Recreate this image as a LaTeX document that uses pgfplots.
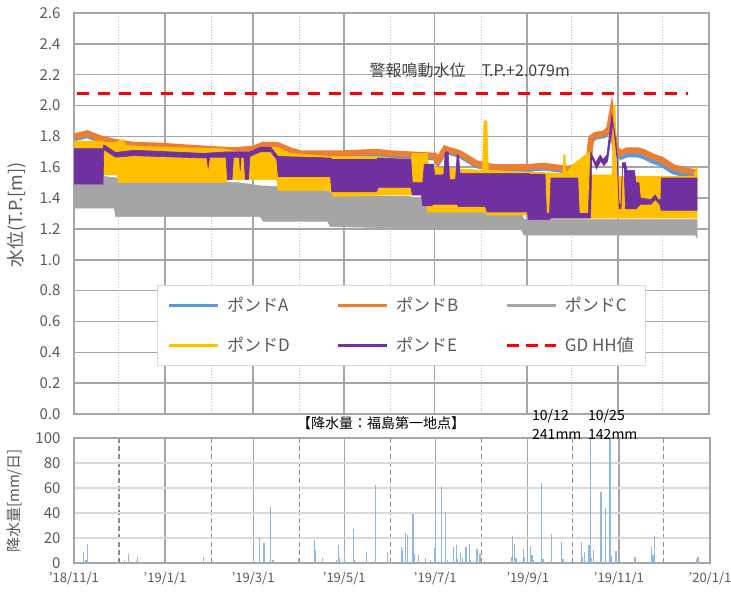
\documentclass[border=0pt]{standalone}
\usepackage{fontspec}
\setmainfont{Noto Sans CJK JP}
\usepackage{pgfplots}
\pgfplotsset{compat=1.18}
\definecolor{pA}{HTML}{5B9BD5}
\definecolor{pB}{HTML}{ED7D31}
\definecolor{pC}{HTML}{A5A5A5}
\definecolor{pD}{HTML}{FFC000}
\definecolor{pE}{HTML}{7030A0}
\definecolor{gridgray}{HTML}{A6A6A6}
\definecolor{dotgray}{HTML}{BFBFBF}
\definecolor{lightgrid}{HTML}{D9D9D9}
\definecolor{dashgray}{HTML}{8C8C8C}
\definecolor{textgray}{HTML}{595959}
\definecolor{darktext}{HTML}{404040}
\definecolor{barblue}{HTML}{8FB8E3}
\begin{document}
\begin{tikzpicture}[x=1pt,y=1pt]
\useasboundingbox (0,0) rectangle (731,594);
\begin{axis}[
  at={(74pt,180pt)}, anchor=south west, scale only axis,
  width=635pt, height=401pt,
  xmin=0, xmax=426, ymin=0, ymax=2.6,
  axis line style={draw=gridgray, line width=1.5pt},
  xtick={61,120,181,242,304,365}, minor xtick={30,92,151,212,273,334,395},
  xticklabels={},
  ytick={0,0.2,0.4,0.6,0.8,1.0,1.2,1.4,1.6,1.8,2.0,2.2,2.4,2.6},
  xmajorgrids, xminorgrids, ymajorgrids,
  major grid style={draw=gridgray, line width=1.5pt},
  minor grid style={draw=dotgray, line width=0.8pt, dotted},
  major tick length=0pt, minor tick length=0pt,
  yticklabel style={font=\fontsize{15}{17}\selectfont, text=textgray, xshift=-10pt},
  /pgf/number format/.cd, fixed, fixed zerofill, precision=1, assume math mode=true,
  /pgfplots/.cd,
  legend columns=3, legend cell align=left,
  legend image code/.code={\draw[#1] (0pt,0pt) -- (49pt,0pt);},
  legend style={at={(0.1307,0.3217)}, anchor=north west, draw=lightgrid, line width=1pt,
    fill=white, inner xsep=10pt, inner ysep=10pt, row sep=20pt,
    font=\fontsize{17}{20}\selectfont, text=textgray,
    /tikz/every odd column/.append style={column sep=6pt},
    /tikz/every even column/.append style={column sep=45pt}},
]
% Pond A
\addplot[pA, line width=5pt, forget plot] coordinates {
(0,1.785) (5,1.795) (9,1.805) (14,1.785) (20,1.765) (30,1.745) (40,1.73) (58,1.725) (80,1.71) (107,1.695) (120,1.705) (127,1.73) (136,1.73) (145,1.695) (152,1.675) (180,1.675) (203,1.685) (212,1.675) (242,1.66) (244,1.625) (249,1.705) (259,1.675) (270,1.61) (282,1.585) (304,1.585) (315,1.595) (331,1.575) (338,1.585) (345,1.605) (347,1.775) (350,1.795) (356,1.805) (359,1.835) (360.5,1.90) (362,1.785) (363,1.715) (364,1.705) (365.5,1.68) (367,1.665) (371,1.68) (378,1.68) (382,1.67) (388,1.64) (394,1.62) (402,1.57) (410,1.55) (418,1.535)};
% Pond B
\addplot[pB, line width=6pt, forget plot] coordinates {
(0,1.80) (5,1.81) (9,1.82) (14,1.80) (20,1.78) (30,1.76) (40,1.745) (58,1.74) (80,1.725) (107,1.71) (120,1.72) (127,1.745) (136,1.745) (145,1.71) (152,1.69) (180,1.69) (203,1.70) (212,1.69) (242,1.675) (244,1.64) (249,1.72) (259,1.69) (270,1.625) (282,1.60) (304,1.60) (315,1.61) (331,1.59) (338,1.60) (345,1.62) (347,1.79) (350,1.81) (356,1.82) (359,1.85) (360.5,1.93) (362,1.80) (363,1.73) (364,1.72) (365.5,1.70) (367,1.69) (371,1.71) (378,1.71) (382,1.70) (388,1.67) (394,1.65) (402,1.60) (410,1.58) (418,1.565)};
% Pond C
\addplot[fill=pC, draw=pC, line width=0.6pt, forget plot] coordinates {
(0,1.49) (19,1.49) (20,1.54) (29,1.53) (30,1.51) (110,1.50) (125,1.48) (145,1.47) (165,1.45) (180,1.43) (190,1.41) (225,1.41) (235,1.39) (237,1.32) (300,1.30) (302,1.26) (418,1.26)
(418,1.14) (417,1.16) (302,1.16) (300,1.195) (240,1.195) (230,1.205) (172,1.215) (170,1.25) (127,1.25) (125,1.28) (28,1.28) (27,1.335) (0,1.335)} -- cycle;
% Pond D
\addplot[fill=pD, draw=pD, line width=0.6pt, forget plot] coordinates {
(0,1.77) (19,1.77) (20,1.76) (27,1.76) (33,1.78) (35,1.74) (60,1.73) (100,1.72) (110,1.70) (120,1.70) (127,1.73) (136,1.73) (145,1.69) (172,1.67) (203,1.67) (212,1.66) (226,1.65) (227,1.69) (237,1.69) (238,1.60) (274,1.58) (275,1.90) (277,1.90) (278,1.58) (328,1.56) (328.5,1.68) (329.5,1.68) (330,1.56) (335,1.62) (346,1.70) (347,1.55) (361,1.55) (362,2.00) (363,2.00) (364,1.54) (416,1.54) (417,1.60) (418,1.60)
(418,1.27) (338,1.27) (305,1.27) (304,1.29) (277,1.29) (276,1.31) (237,1.31) (236,1.42) (212,1.42) (174,1.41) (172,1.45) (137,1.45) (136,1.52) (105,1.52) (100,1.50) (30,1.50) (29,1.55) (20,1.55) (19,1.50) (0,1.50)} -- cycle;
% Pond E
\addplot[fill=pE, draw=pE, line width=0.6pt, forget plot] coordinates {
(0,1.72) (19.5,1.72) (20,1.745) (28,1.695) (40,1.71) (87,1.69) (103,1.70) (118,1.70) (125,1.73) (132,1.73) (136,1.68) (137,1.67) (172,1.66) (173,1.65) (203,1.65) (204,1.66) (226,1.65) (227,1.50) (234,1.50) (235,1.62) (241,1.62) (242,1.55) (248,1.55) (249,1.70) (251,1.70) (252,1.52) (256,1.52) (257,1.68) (258,1.68) (259,1.56) (305,1.56) (306,1.555) (316,1.555) (317,1.30) (319,1.30) (320,1.53) (338,1.53) (339,1.30) (345,1.30) (346.7,1.70) (350,1.63) (353,1.68) (355,1.65) (357.5,1.68) (359.7,1.85) (360.8,1.94) (363,1.81) (364.4,1.68) (365.7,1.36) (367,1.36) (368,1.63) (370,1.63) (371,1.58) (376,1.58) (377,1.50) (379,1.50) (380,1.40) (387,1.39) (390,1.42) (392,1.39) (393.7,1.39) (394,1.53) (418,1.53)
(418,1.32) (394,1.32) (393,1.36) (390,1.39) (387,1.36) (380,1.36) (377,1.33) (370,1.33) (369,1.60) (368,1.60) (367,1.33) (365.7,1.33) (364.4,1.65) (363,1.77) (361.5,1.90) (360.5,1.82) (358,1.64) (355.5,1.61) (353.5,1.64) (350.5,1.59) (347.5,1.66) (346.5,1.27) (320,1.27) (319,1.26) (305,1.26) (304,1.31) (277,1.31) (276,1.345) (258,1.345) (257,1.36) (241,1.36) (240,1.35) (234,1.35) (233,1.42) (227,1.42) (226,1.47) (204,1.47) (203,1.44) (173,1.44) (172,1.54) (137,1.54) (136,1.65) (132,1.70) (125,1.70) (118,1.67) (117,1.52) (115,1.52) (114,1.665) (112,1.665) (111.5,1.58) (111,1.665) (107,1.665) (106,1.52) (103,1.52) (102,1.665) (91,1.665) (90,1.60) (89,1.665) (87,1.66) (40,1.675) (28,1.665) (20,1.715) (19.5,1.49) (0,1.49)} -- cycle;
% GD HH
\addplot[red, line width=3pt, dash pattern=on 12pt off 9pt, forget plot] coordinates {(2,2.079) (412,2.079)};
\addlegendimage{pA, line width=2.5pt}\addlegendentry{ポンドA}
\addlegendimage{pB, line width=2.5pt}\addlegendentry{ポンドB}
\addlegendimage{pC, line width=2.5pt}\addlegendentry{ポンドC}
\addlegendimage{pD, line width=2.5pt}\addlegendentry{ポンドD}
\addlegendimage{pE, line width=2.5pt}\addlegendentry{ポンドE}
\addlegendimage{red, line width=2.5pt, dash pattern=on 12pt off 7pt}\addlegendentry{GD HH値}
\end{axis}
\begin{axis}[
  at={(74pt,31pt)}, anchor=south west, scale only axis,
  width=636pt, height=125pt,
  xmin=0, xmax=426, ymin=0, ymax=100,
  axis line style={draw=gridgray, line width=1.5pt},
  xtick={0,61,120,181,242,304,365,426},
  xticklabels={'18/11/1,'19/1/1,'19/3/1,'19/5/1,'19/7/1,'19/9/1,'19/11/1,'20/1/1},
  minor xtick={30,92,151,212,273,334,395},
  ytick={0,20,40,60,80,100},
  xmajorgrids, xminorgrids, ymajorgrids,
  major x grid style={draw=gridgray, line width=1.2pt},
  minor x grid style={draw=dashgray, line width=1.5pt, dash pattern=on 5pt off 3pt},
  major y grid style={draw=lightgrid, line width=1.5pt},
  major tick length=0pt, minor tick length=0pt,
  yticklabel style={font=\fontsize{15}{17}\selectfont, text=textgray, xshift=-10pt},
  xticklabel style={font=\fontsize{13}{15}\selectfont, text=textgray, yshift=-6pt},
  /pgf/number format/assume math mode=true,
]
\addplot[ycomb, color=barblue, line width=1.2pt] coordinates {
(6.5,9) (8,2) (9.2,15) (19.3,1) (34,2) (36.3,7.5) (41.7,1.5) (42.3,4.5) (87,5) (101,1) (113,1) (120,4) (124.3,20.5) (127.2,16) (131.5,45) (133.3,2) (150.3,4) (161,18) (162,10) (166.4,4) (176,2) (177,14) (177.8,4) (181.2,11) (187,27) (188,2) (196,8.5) (202,62.5) (210,8.5) (212.8,1) (219.3,13) (219.9,10) (222.2,24) (223.3,22) (227.1,39) (227.8,7) (231,6) (234,1) (235.5,4) (239,2) (241.2,12) (242.3,45.5) (246.1,61.5) (249,40.5) (250,2) (254.2,13) (256.2,14.5) (256.8,3.5) (258.7,8) (260,4) (262.5,12.5) (263,4) (264.7,15) (265.5,2) (269.9,11.5) (271.5,7) (272.5,7) (287,1) (293,5) (293.9,21.5) (295.2,15) (296,4) (301.2,11.5) (301.8,4.5) (306,13.5) (306.8,6) (307.5,2) (313.1,64) (314.2,3) (320,23) (326.7,17) (327.5,3) (331,1) (336,1) (340,17) (340.6,4.5) (341.8,9) (344.9,14.5) (345.8,241) (346.7,4) (348,10.5) (353,56.5) (356,44) (359,142) (359.7,5.5) (363,9.5) (375.8,4.5) (387,13.5) (387.8,6) (388.8,21.5) (393,1) (417,3) (418,5)};
\end{axis}
\node[rotate=90, font=\fontsize{18}{20}\selectfont, text=textgray] at (17,379) {水位(T.P.[m])};
\node[rotate=90, font=\fontsize{15}{17}\selectfont, text=textgray] at (15,93) {降水量[mm/日]};
\node[anchor=west, font=\fontsize{16}{18}\selectfont, text=darktext] at (366,524) {警報鳴動水位　T.P.+2.079m};
\node[font=\fontsize{14}{16}\selectfont, text=black] at (381,171) {【降水量：福島第一地点】};
\node[anchor=west, align=left, inner sep=0pt, font=\fontsize{14}{19}\selectfont, text=black] at (532,169.5) {10/12\\241mm};
\node[anchor=west, align=left, inner sep=0pt, font=\fontsize{14}{19}\selectfont, text=black] at (588,169.5) {10/25\\142mm};
\end{tikzpicture}
\end{document}
